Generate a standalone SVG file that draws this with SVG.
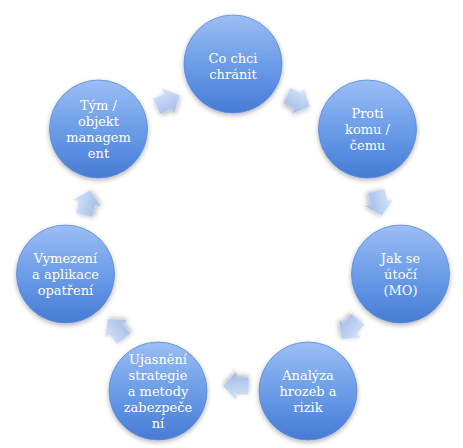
<svg xmlns="http://www.w3.org/2000/svg" xmlns:xlink="http://www.w3.org/1999/xlink" width="463" height="448" viewBox="0 0 463 448">
<defs>
  <linearGradient id="gc" x1="0" y1="0" x2="0" y2="1">
    <stop offset="0" stop-color="#9cbef4"/>
    <stop offset="0.5" stop-color="#6b9de8"/>
    <stop offset="1" stop-color="#477bd5"/>
  </linearGradient>
  <linearGradient id="ga" x1="0" y1="0" x2="0" y2="1">
    <stop offset="0" stop-color="#d8e4f7"/>
    <stop offset="1" stop-color="#9fbae8"/>
  </linearGradient>
  <filter id="sh" x="-30%" y="-30%" width="160%" height="160%">
    <feGaussianBlur in="SourceAlpha" stdDeviation="2.5"/>
    <feOffset dy="2" result="b"/>
    <feComponentTransfer><feFuncA type="linear" slope="0.3"/></feComponentTransfer>
    <feMerge><feMergeNode/><feMergeNode in="SourceGraphic"/></feMerge>
  </filter>
  <path id="arr" d="M-12.5,-8.5 L0,-8.5 L0,-14 L13,0 L0,14 L0,8.5 L-12.5,8.5 Z"/>
</defs>
<style>
  .node circle { fill: url(#gc); stroke: #5b8ad9; stroke-width: 0.8; filter: url(#sh); }
  .node text { font-family: "DejaVu Serif", "Liberation Serif", serif; font-size: 13px; fill: #ffffff; text-anchor: middle; }
  .conn use { fill: url(#ga); filter: url(#sh); }
</style>
<rect width="463" height="448" fill="#ffffff"/>

<g id="connectors" class="conn">
  <use xlink:href="#arr" href="#arr" transform="translate(298,101) rotate(25.7)"/>
  <use xlink:href="#arr" href="#arr" transform="translate(379,203) rotate(77.1)"/>
  <use xlink:href="#arr" href="#arr" transform="translate(350,329) rotate(128.6)"/>
  <use xlink:href="#arr" href="#arr" transform="translate(236,386) rotate(180)"/>
  <use xlink:href="#arr" href="#arr" transform="translate(116,329) rotate(231.4)"/>
  <use xlink:href="#arr" href="#arr" transform="translate(87,203) rotate(282.9)"/>
  <use xlink:href="#arr" href="#arr" transform="translate(168,101) rotate(334.3)"/>
</g>

<g id="node1" class="node">
  <circle cx="233" cy="64" r="49"/>
  <text x="233" y="63">Co chci</text>
  <text x="233" y="79">chránit</text>
</g>
<g id="node2" class="node">
  <circle cx="367.5" cy="129" r="49"/>
  <text x="367.5" y="117.5">Proti</text>
  <text x="367.5" y="133.5">komu /</text>
  <text x="367.5" y="149.5">čemu</text>
</g>
<g id="node3" class="node">
  <circle cx="400.5" cy="274" r="49"/>
  <text x="400.5" y="262.5">Jak se</text>
  <text x="400.5" y="278.5">útočí</text>
  <text x="400.5" y="294.5">(MO)</text>
</g>
<g id="node4" class="node">
  <circle cx="308" cy="391" r="49"/>
  <text x="308" y="379.5">Analýza</text>
  <text x="308" y="395.5">hrozeb a</text>
  <text x="308" y="411.5">rizik</text>
</g>
<g id="node5" class="node">
  <circle cx="158" cy="391" r="49"/>
  <text x="158" y="363.5">Ujasnění</text>
  <text x="158" y="379.5">strategie</text>
  <text x="158" y="395.5">a metody</text>
  <text x="158" y="411.5">zabezpeče</text>
  <text x="158" y="427.5">ní</text>
</g>
<g id="node6" class="node">
  <circle cx="65.5" cy="274" r="49"/>
  <text x="65.5" y="262.5">Vymezení</text>
  <text x="65.5" y="278.5">a aplikace</text>
  <text x="65.5" y="294.5">opatření</text>
</g>
<g id="node7" class="node">
  <circle cx="98.5" cy="129" r="49"/>
  <text x="98.5" y="109.5">Tým /</text>
  <text x="98.5" y="125.5">objekt</text>
  <text x="98.5" y="141.5">managem</text>
  <text x="98.5" y="157.5">ent</text>
</g>
</svg>
